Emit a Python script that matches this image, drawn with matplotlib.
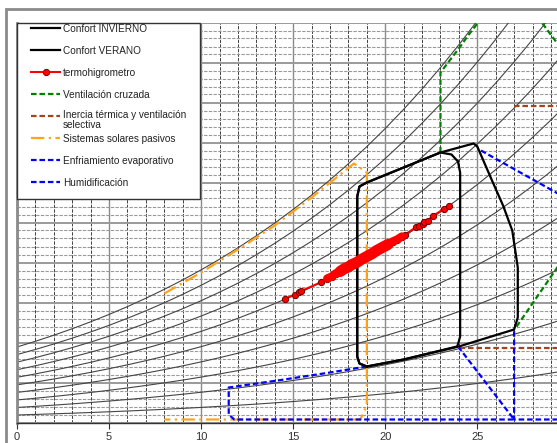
"""Diagrama psicrometrico (Givoni) con zonas de confort y lecturas del termohigrometro."""

import matplotlib

matplotlib.use("Agg")

import matplotlib.pyplot as plt
import numpy as np
from matplotlib.lines import Line2D
from matplotlib.patches import Rectangle

plt.rcParams["font.family"] = ["Liberation Sans", "DejaVu Sans"]

# saturation vapour pressure (kPa) at each whole degree, 0..30 C
table_temp = list(range(0, 31))
table_psat = [
    0.6113, 0.6571, 0.7060, 0.7581, 0.8135, 0.8726, 0.9354, 1.0021, 1.0730, 1.1482,
    1.2282, 1.3129, 1.4028, 1.4981, 1.5989, 1.7057, 1.8188, 1.9383, 2.0647, 2.1982,
    2.3392, 2.4881, 2.6452, 2.8109, 2.9856, 3.1697, 3.3637, 3.5679, 3.7828, 4.0089,
    4.2467,
]
rh_levels = [0.1, 0.2, 0.3, 0.4, 0.5, 0.6, 0.7, 0.8, 0.9, 1.0]
pressure_kpa = 101.325

# zones: temperature (C) and humidity ratio (g/kg)
winter_t = [19.0, 18.6, 18.48, 18.48, 18.6, 19.0, 23.0, 23.6, 23.95, 24.07, 24.07, 23.95, 23.9, 21.0, 19.0]
winter_w = [2.8, 2.95, 3.3, 11.3, 11.8, 12.0, 13.5, 13.4, 13.05, 12.5, 4.3, 3.9, 3.8, 3.15, 2.8]

summer_t = [19.0, 18.6, 18.48, 18.48, 18.6, 19.0, 23.0, 24.8, 25.0, 25.8, 26.4, 26.9, 27.2, 27.2, 27.0, 24.0, 21.0, 19.0]
summer_w = [2.8, 2.95, 3.3, 11.3, 11.8, 12.0, 13.5, 13.95, 13.8, 12.1, 10.85, 9.6, 7.75, 5.25, 4.65, 3.8, 3.15, 2.8]

hygro_t = [14.53, 15.11, 15.29, 15.43, 16.52, 16.85, 17.1, 17.3, 17.55, 17.8, 18.0, 18.2, 18.45,
           18.7, 18.9, 19.1, 19.3, 19.5, 19.7, 19.9, 20.15, 20.4, 20.65, 20.9, 21.09, 21.67,
           21.85, 22.03, 22.12, 22.32, 22.57, 23.2, 23.44]
hygro_w = [6.18, 6.4, 6.52, 6.57, 7.02, 7.2, 7.3, 7.45, 7.55, 7.7, 7.78, 7.9, 8.0,
           8.15, 8.25, 8.35, 8.45, 8.58, 8.68, 8.78, 8.9, 9.05, 9.15, 9.3, 9.4, 9.77,
           9.85, 9.93, 10.02, 10.1, 10.32, 10.68, 10.85]
band = slice(5, 24)
band_core = slice(8, 21)

vent_t = [23.0, 23.0, 23.5, 24.0, 24.5, 25.05, 25.8, 27.7, 28.5, 32.0, 32.0, 27.1]
vent_w = [13.5, 17.5, 18.1, 18.7, 19.35, 20.0, 21.0, 21.0, 20.0, 15.7, 11.3, 4.75]

inertia_t = [27.0, 35.0, 35.0, 24.0]
inertia_w = [15.85, 15.85, 3.72, 3.72]

solar_t = [8.0, 10.0, 12.0, 14.0, 16.0, 18.3, 19.0, 19.0, 18.65, 8.0]
solar_w = [6.45, 7.5, 8.65, 9.85, 11.25, 12.95, 12.5, 0.85, 0.15, 0.15]

evap_t = [25.2, 32.0, 32.0, 27.0, 27.0]
evap_w = [13.6, 10.1, 0.15, 0.15, 4.65]

humid_t = [19.0, 17.0, 14.3, 11.5, 11.5, 11.8, 27.0, 24.0]
humid_w = [2.8, 2.5, 2.12, 1.75, 0.4, 0.15, 0.15, 3.75]

x_ticks = [0, 5, 10, 15, 20, 25]

W, H = 557, 443


def fx(px):
    return px / W


def fy(py):
    return 1 - py / H


fig = plt.figure(figsize=(W / 100, H / 100), dpi=100)
ax = fig.add_axes([fx(17), fy(422.5), fx(557) - fx(17), fy(22.5) - fy(422.5)])

# grid
ax.set_xticks(x_ticks)
ax.set_xticks(np.arange(0, 30, 1), minor=True)
ax.set_yticks(np.arange(0, 21, 2))
ax.set_yticks(np.arange(0, 20.01, 0.4), minor=True)
ax.set_xlim(0, 29.33)
ax.set_ylim(0, 20)
ax.grid(which="major", axis="y", color="#9a9a9a", lw=1.4, zorder=0)
ax.grid(which="minor", axis="y", color="#9a9a9a", lw=0.8, ls=(0, (3, 1.2)), zorder=0)
ax.grid(which="minor", axis="x", color="#222222", lw=0.6, ls=(0, (4, 1.5)), zorder=0)
ax.grid(which="major", axis="x", color="#8a8a8a", lw=1.0, zorder=0)
ax.set_axisbelow(True)
ax.tick_params(axis="y", which="both", left=False, labelleft=False)
ax.tick_params(axis="x", which="minor", bottom=False)
ax.tick_params(axis="x", which="major", length=4, color="#333333", labelsize=8,
               labelcolor="#333333", pad=3)
for side in ("top", "right"):
    ax.spines[side].set_visible(False)
ax.spines["left"].set_color("#8a8a8a")
ax.spines["left"].set_linewidth(2)
ax.spines["bottom"].set_color("#333333")
ax.spines["bottom"].set_linewidth(1)

# relative humidity curves
psat = np.array(table_psat)
for rh in rh_levels:
    pv = rh * psat
    ax.plot(table_temp, 622 * pv / (pressure_kpa - pv), color="#454545", lw=0.8, zorder=1)

dashed = (0, (2.5, 1.3))
ax.plot(vent_t, vent_w, color="#008000", lw=1.6, ls=dashed, zorder=3)
ax.plot(inertia_t, inertia_w, color="#a0461e", lw=1.6, ls=dashed, zorder=3)
ax.plot(solar_t, solar_w, color="#ffa31a", lw=1.6, ls=(0, (6, 2, 1, 2)), zorder=3)
ax.plot(humid_t, humid_w, color="#0000ff", lw=1.6, ls=dashed, zorder=4)
ax.plot(evap_t, evap_w, color="#0000ff", lw=1.6, ls=dashed, zorder=4)

ax.plot(winter_t, winter_w, color="black", lw=1.6, zorder=5, solid_joinstyle="round")
ax.plot(summer_t, summer_w, color="black", lw=1.6, zorder=5, solid_joinstyle="round")

ax.plot(hygro_t, hygro_w, color="red", lw=1.5, marker="o", ms=4.5, mfc="red",
        mec="#700000", mew=0.7, zorder=6)
# the densest readings overlap into a solid band
ax.plot(hygro_t[band], hygro_w[band], color="red", lw=6, solid_capstyle="round", zorder=7)
ax.plot(hygro_t[band_core], hygro_w[band_core], color="red", lw=8, solid_capstyle="round", zorder=7)

# legend drawn by hand, Excel style
fig.add_artist(Rectangle((fx(17), fy(199)), fx(200) - fx(17), fy(23) - fy(199),
                         transform=fig.transFigure, fc="white", ec="#333333", lw=1, zorder=10))
entries = [
    ("Confort INVIERNO", 28, dict(color="black", lw=1.6)),
    ("Confort VERANO", 50, dict(color="black", lw=1.6)),
    ("termohigrometro", 72, dict(color="red", lw=1.5)),
    ("Ventilación cruzada", 94, dict(color="#008000", lw=1.6, ls=dashed)),
    ("Inercia térmica y ventilación\nselectiva", 116, dict(color="#a0461e", lw=1.6, ls=dashed)),
    ("Sistemas solares pasivos", 138, dict(color="#ffa31a", lw=1.6, ls=(0, (6, 2, 1, 2)))),
    ("Enfriamiento evaporativo", 160, dict(color="#0000ff", lw=1.6, ls=dashed)),
    ("Humidificación", 182, dict(color="#0000ff", lw=1.6, ls=dashed)),
]
for label, py, style in entries:
    fig.add_artist(Line2D([fx(31), fx(60)], [fy(py), fy(py)], transform=fig.transFigure,
                          zorder=11, **style))
    if "\n" in label:
        fig.text(fx(63), fy(py - 6), label, fontsize=7.2, color="#222222", va="top",
                 linespacing=1.05, zorder=11)
    else:
        fig.text(fx(63), fy(py + 0.5), label, fontsize=7.2, color="#222222", va="center",
                 zorder=11)
fig.add_artist(Line2D([fx(46)], [fy(72)], transform=fig.transFigure, marker="o", ms=4.5,
                      mfc="red", mec="#700000", mew=0.7, zorder=12))

# outer chart frame
fig.add_artist(Rectangle((fx(6), -0.1), 1.2, fy(9) + 0.1, transform=fig.transFigure,
                         fill=False, ec="#8a8a8a", lw=2, zorder=12))

fig.savefig("out.png", dpi=100)
